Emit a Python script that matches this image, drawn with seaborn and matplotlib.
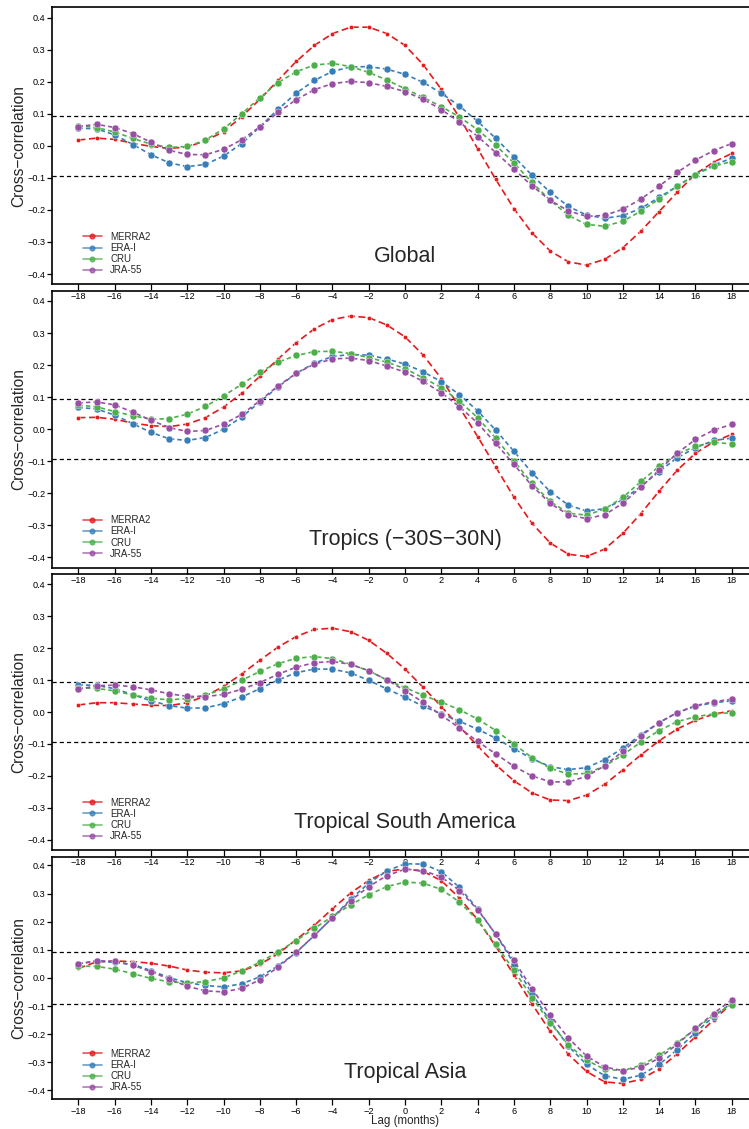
import matplotlib
matplotlib.use("Agg")
import matplotlib.pyplot as plt
from matplotlib.lines import Line2D
import numpy as np
import pandas as pd
import seaborn as sns

# ---------------- data ----------------
lags = list(range(-18, 19))
series_names = ["MERRA2", "ERA-I", "CRU", "JRA-55"]
panel_titles = ["Global", "Tropics (\u221230S\u221230N)", "Tropical South America", "Tropical Asia"]

global_merra2 = [0.018, 0.024, 0.020, 0.008, -0.002, -0.008, -0.004, 0.016, 0.044, 0.091, 0.145, 0.204, 0.263,
                 0.313, 0.350, 0.370, 0.370, 0.350, 0.313, 0.253, 0.176, 0.088, -0.009, -0.105, -0.196, -0.272,
                 -0.328, -0.362, -0.372, -0.354, -0.318, -0.266, -0.205, -0.145, -0.088, -0.051, -0.024]
global_erai = [0.055, 0.053, 0.034, 0.004, -0.028, -0.053, -0.065, -0.058, -0.032, 0.007, 0.059, 0.114, 0.164,
               0.204, 0.232, 0.246, 0.247, 0.239, 0.223, 0.198, 0.164, 0.124, 0.076, 0.023, -0.034, -0.092,
               -0.145, -0.189, -0.216, -0.226, -0.218, -0.195, -0.161, -0.126, -0.090, -0.060, -0.039]
global_cru = [0.063, 0.057, 0.043, 0.023, 0.005, -0.005, -0.002, 0.018, 0.053, 0.100, 0.150, 0.197, 0.231,
              0.252, 0.257, 0.247, 0.229, 0.205, 0.178, 0.151, 0.122, 0.090, 0.050, 0.002, -0.054, -0.114,
              -0.170, -0.217, -0.245, -0.251, -0.235, -0.204, -0.166, -0.126, -0.090, -0.064, -0.049]
global_jra55 = [0.060, 0.067, 0.057, 0.038, 0.011, -0.014, -0.027, -0.028, -0.011, 0.019, 0.059, 0.104, 0.144,
                0.175, 0.194, 0.201, 0.197, 0.185, 0.169, 0.145, 0.113, 0.074, 0.029, -0.021, -0.073, -0.125,
                -0.170, -0.203, -0.220, -0.217, -0.198, -0.166, -0.126, -0.083, -0.045, -0.015, 0.007]

tropics_merra2 = [0.036, 0.037, 0.031, 0.019, 0.011, 0.008, 0.016, 0.036, 0.069, 0.112, 0.165, 0.219, 0.270,
                  0.313, 0.342, 0.353, 0.348, 0.325, 0.288, 0.231, 0.158, 0.068, -0.023, -0.118, -0.212, -0.294,
                  -0.355, -0.390, -0.397, -0.374, -0.325, -0.263, -0.193, -0.128, -0.075, -0.040, -0.016]
tropics_erai = [0.068, 0.063, 0.044, 0.017, -0.010, -0.030, -0.035, -0.026, 0.000, 0.038, 0.085, 0.132, 0.174,
                0.206, 0.227, 0.233, 0.231, 0.219, 0.203, 0.179, 0.148, 0.108, 0.057, -0.003, -0.069, -0.136,
                -0.195, -0.237, -0.255, -0.248, -0.220, -0.178, -0.132, -0.089, -0.058, -0.035, -0.028]
tropics_cru = [0.075, 0.070, 0.055, 0.042, 0.031, 0.033, 0.047, 0.071, 0.104, 0.140, 0.178, 0.209, 0.230,
               0.242, 0.243, 0.236, 0.223, 0.209, 0.189, 0.160, 0.130, 0.087, 0.036, -0.028, -0.099, -0.169,
               -0.225, -0.262, -0.268, -0.249, -0.213, -0.163, -0.116, -0.078, -0.053, -0.041, -0.046]
tropics_jra55 = [0.082, 0.085, 0.076, 0.053, 0.028, 0.005, -0.007, -0.004, 0.016, 0.046, 0.089, 0.135, 0.174,
                 0.203, 0.219, 0.222, 0.214, 0.197, 0.178, 0.149, 0.114, 0.070, 0.019, -0.044, -0.110, -0.177,
                 -0.231, -0.267, -0.279, -0.267, -0.231, -0.181, -0.127, -0.075, -0.032, -0.003, 0.015]

tsa_merra2 = [0.022, 0.029, 0.029, 0.025, 0.021, 0.020, 0.029, 0.050, 0.080, 0.119, 0.162, 0.203, 0.236,
              0.258, 0.262, 0.251, 0.224, 0.183, 0.134, 0.077, 0.017, -0.046, -0.106, -0.165, -0.215, -0.253,
              -0.275, -0.277, -0.260, -0.226, -0.181, -0.134, -0.090, -0.053, -0.026, -0.007, 0.004]
tsa_erai = [0.085, 0.083, 0.073, 0.054, 0.035, 0.020, 0.012, 0.013, 0.026, 0.047, 0.073, 0.100, 0.123,
            0.134, 0.134, 0.122, 0.099, 0.072, 0.046, 0.018, -0.006, -0.029, -0.054, -0.082, -0.115, -0.146,
            -0.171, -0.180, -0.174, -0.149, -0.113, -0.071, -0.033, -0.002, 0.018, 0.029, 0.035]
tsa_cru = [0.075, 0.074, 0.066, 0.053, 0.043, 0.038, 0.042, 0.053, 0.072, 0.099, 0.127, 0.151, 0.168,
           0.173, 0.167, 0.149, 0.129, 0.100, 0.076, 0.052, 0.031, 0.007, -0.022, -0.058, -0.100, -0.143,
           -0.176, -0.194, -0.192, -0.169, -0.134, -0.094, -0.058, -0.030, -0.015, -0.006, -0.002]
tsa_jra55 = [0.071, 0.082, 0.084, 0.079, 0.069, 0.057, 0.049, 0.048, 0.055, 0.071, 0.092, 0.118, 0.140,
             0.154, 0.158, 0.149, 0.129, 0.100, 0.067, 0.030, -0.010, -0.050, -0.092, -0.131, -0.170, -0.200,
             -0.218, -0.219, -0.201, -0.168, -0.123, -0.075, -0.033, -0.002, 0.020, 0.032, 0.040]

tasia_merra2 = [0.034, 0.057, 0.060, 0.058, 0.052, 0.042, 0.028, 0.020, 0.018, 0.025, 0.048, 0.086, 0.136,
                0.187, 0.246, 0.302, 0.347, 0.379, 0.388, 0.379, 0.346, 0.284, 0.207, 0.112, 0.011, -0.093,
                -0.190, -0.272, -0.333, -0.370, -0.376, -0.361, -0.324, -0.270, -0.210, -0.150, -0.091]
tasia_erai = [0.050, 0.060, 0.055, 0.048, 0.026, 0.001, -0.017, -0.027, -0.032, -0.021, 0.004, 0.043, 0.090,
              0.151, 0.214, 0.280, 0.337, 0.381, 0.406, 0.405, 0.378, 0.322, 0.245, 0.155, 0.051, -0.056,
              -0.154, -0.243, -0.308, -0.348, -0.361, -0.346, -0.308, -0.255, -0.195, -0.138, -0.089]
tasia_cru = [0.042, 0.041, 0.031, 0.015, -0.002, -0.014, -0.018, -0.013, 0.000, 0.025, 0.056, 0.093, 0.133,
             0.176, 0.219, 0.260, 0.296, 0.325, 0.341, 0.337, 0.315, 0.270, 0.205, 0.120, 0.027, -0.070,
             -0.160, -0.238, -0.293, -0.325, -0.330, -0.311, -0.276, -0.231, -0.181, -0.133, -0.095]
tasia_jra55 = [0.050, 0.061, 0.059, 0.045, 0.022, -0.004, -0.030, -0.046, -0.050, -0.037, -0.007, 0.038, 0.091,
               0.151, 0.214, 0.275, 0.325, 0.364, 0.387, 0.382, 0.359, 0.311, 0.243, 0.155, 0.062, -0.038,
               -0.133, -0.214, -0.278, -0.317, -0.330, -0.318, -0.286, -0.236, -0.180, -0.127, -0.078]

panels = [
    [global_merra2, global_erai, global_cru, global_jra55],
    [tropics_merra2, tropics_erai, tropics_cru, tropics_jra55],
    [tsa_merra2, tsa_erai, tsa_cru, tsa_jra55],
    [tasia_merra2, tasia_erai, tasia_cru, tasia_jra55],
]
sig_level = 0.093
xtick_values = list(range(-18, 19, 2))
ytick_values = [-0.4, -0.3, -0.2, -0.1, 0.0, 0.1, 0.2, 0.3, 0.4]

# ---------------- style ----------------
sns.set_style("ticks")
plt.rcParams["font.family"] = ["Liberation Sans", "DejaVu Sans"]
plt.rcParams["lines.scale_dashes"] = False
plt.rcParams["axes.unicode_minus"] = True

colors = ["#E41A1C", "#377EB8", "#4DAF4A", "#984EA3"]
line_styles = [(0, (5.0, 2.6)), (0, (3.2, 2.2)), (0, (3.2, 2.2)), (0, (3.2, 2.2))]
marker_sizes = [3.1, 5.0, 5.0, 5.0]

W, H = 749, 1129
fig = plt.figure(figsize=(W / 100, H / 100), dpi=100)

left_px, right_px = 52.3, 757.8
boxes = [(7.3, 284.3), (290.7, 567.7), (573.8, 850.2), (856.5, 1099.3)]
title_y = [-0.345, -0.345, -0.346, -0.335]
legend_off_px = [14.3, 14.3, 14.5, 12.3]

for p, (top, bot) in enumerate(boxes):
    ax = fig.add_axes([left_px / W, 1 - bot / H, (right_px - left_px) / W, (bot - top) / H])
    ax.set_facecolor("none")
    ax.axhline(sig_level, color="black", lw=0.9, linestyle=(0, (3.0, 2.2)), zorder=1)
    ax.axhline(-sig_level, color="black", lw=0.9, linestyle=(0, (3.0, 2.2)), zorder=1)

    for k, name in enumerate(series_names):
        sns.lineplot(x=lags, y=panels[p][k], ax=ax, color=colors[k], lw=1.2,
                     linestyle=line_styles[k], marker="o", markersize=marker_sizes[k],
                     mec="white", mew=0.3, errorbar=None, zorder=2 + k)

    ax.set_xlim(-19.44, 19.44)
    ax.set_ylim(-0.432, 0.432)
    ax.set_xticks(xtick_values)
    ax.set_xticklabels([str(v).replace("-", "\u2212") for v in xtick_values])
    ax.set_yticks(ytick_values)
    ax.set_yticklabels([("%.1f" % v).replace("-", "\u2212") for v in ytick_values])
    ax.tick_params(axis="x", direction="out", length=4.3, width=0.9, pad=1.4, labelsize=6.6, colors="black")
    ax.tick_params(axis="y", direction="out", length=3.5, width=0.9, pad=1.3, labelsize=6.6, colors="black")
    for s in ax.spines.values():
        s.set_linewidth(1.2)
        s.set_color("black")
    ax.set_xlabel("")
    ax.set_ylabel("Cross\u2212correlation", fontsize=11.2)
    ax.yaxis.set_label_coords((26.0 - left_px) / (right_px - left_px), 0.5)

    ax.text(0, title_y[p], panel_titles[p], ha="center", va="center", fontsize=15.5)

    handles = [Line2D([0], [0], color=c, lw=1.2, marker="o", markersize=3.4, alpha=0.75) for c in colors]
    hpx = bot - top
    ax.legend(handles, series_names, loc="lower left",
              bbox_to_anchor=((83 - left_px) / (right_px - left_px), (legend_off_px[p] - 5.4) / hpx),
              frameon=False, fontsize=7, handlelength=1.95, handletextpad=0.86,
              labelspacing=0.12, borderpad=0, borderaxespad=0)

fig.text(405 / W, 1 - 1121 / H, "Lag (months)", ha="center", va="center", fontsize=8.3)

fig.savefig("out.png", dpi=100)
